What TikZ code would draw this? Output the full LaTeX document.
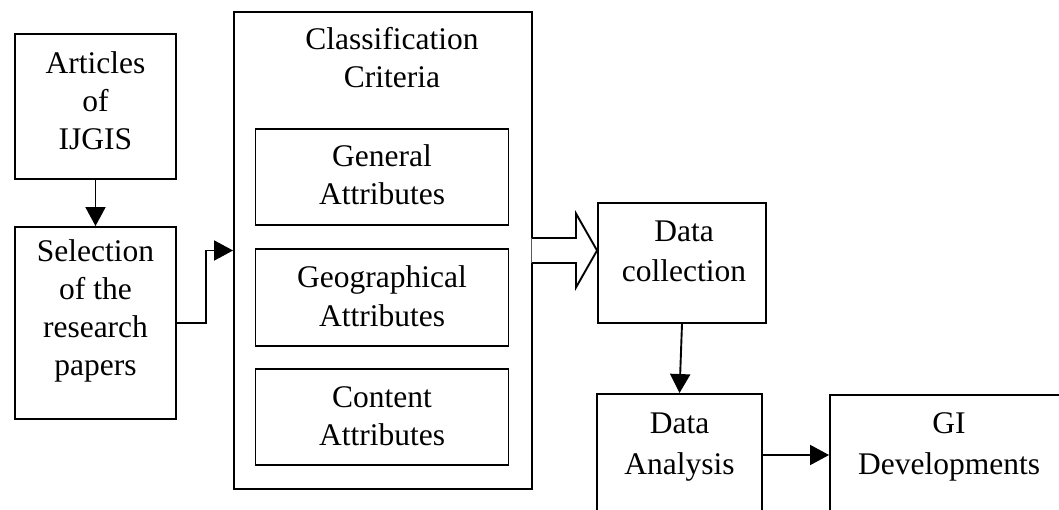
\documentclass[tikz,border=0pt]{standalone}
\usepackage{fontspec}
\setmainfont{Liberation Serif}
\usetikzlibrary{arrows.meta,calc}
\begin{document}
\begin{tikzpicture}[x=1pt,y=-1pt,
  box/.style={draw, line width=1.9pt, rectangle, inner sep=0pt},
  % anchored at the baseline of the last line
  caption/.style={anchor=base, align=center, inner sep=0pt,
    font=\fontsize{31.5}{38}\selectfont},
  wide caption/.style={caption, font=\fontsize{31.5}{40.5}\selectfont},
  conn/.style={line width=1.9pt, -{Triangle[length=19pt,width=20pt]}},
  ]
\useasboundingbox (0,0) rectangle (1059,510);
\clip (0,0) rectangle (1059,510);

% boxes
\node[box, minimum width=161pt, minimum height=145pt] (art) at (95.5,106.5) {};
\node[box, minimum width=161pt, minimum height=192pt] (sel) at (95.5,323) {};
\node[box, minimum width=298pt, minimum height=477pt] (cls) at (383,250.5) {};
\node[box, minimum width=253pt, minimum height=96pt] (gen) at (382,177) {};
\node[box, minimum width=253pt, minimum height=97pt] (geo) at (382,297.5) {};
\node[box, minimum width=253pt, minimum height=96pt] (con) at (382,417) {};
\node[box, minimum width=168pt, minimum height=120pt] (dc) at (682,263) {};
\node[box, minimum width=165pt, minimum height=122pt] (da) at (679.5,455) {};
\node[box, minimum width=245pt, minimum height=120pt] (gi) at (952.5,455) {};

% texts
\node[caption] (artT) at (95.5,150) {Articles\\of\\IJGIS};
\node[caption] (selT) at (95.5,375) {Selection\\of the\\research\\papers};
\node[caption] (clsT) at (392,88) {Classification\\Criteria};
\node[caption] (genT) at (382,205) {General\\Attributes};
\node[caption] (geoT) at (382,326) {Geographical\\Attributes};
\node[caption] (conT) at (382,445) {Content\\Attributes};
\node[wide caption] (dcT) at (684,282) {Data\\collection};
\node[wide caption] (daT) at (679.5,474) {Data\\Analysis};
\node[wide caption] (giT) at (949,474) {GI\\Developments};

% connectors
\draw[conn] (art.south) -- (sel.north);
\draw[conn] (sel.east) -- ++(29,0) |- (cls.west);
\draw[conn] (dc.south) -- (da.north);
\draw[conn] (da.east) -- (gi.west);

% hollow block arrow from the criteria box to data collection
\coordinate (ba) at (cls.east);
\coordinate (bt) at (cls.east -| dc.west);
\fill[white] ($(ba)+(-1.4,-12.5)$) -- ($(ba)+(43,-12.5)$) -- ($(ba)+(43,-37)$)
  -- (bt) -- ($(ba)+(43,37)$) -- ($(ba)+(43,12.5)$) -- ($(ba)+(-1.4,12.5)$) -- cycle;
\draw[line width=1.9pt, line join=miter]
  ($(ba)+(-0.95,-12.5)$) -- ($(ba)+(43,-12.5)$) -- ($(ba)+(43,-37)$)
  -- (bt) -- ($(ba)+(43,37)$) -- ($(ba)+(43,12.5)$) -- ($(ba)+(-0.95,12.5)$);
\end{tikzpicture}
\end{document}
